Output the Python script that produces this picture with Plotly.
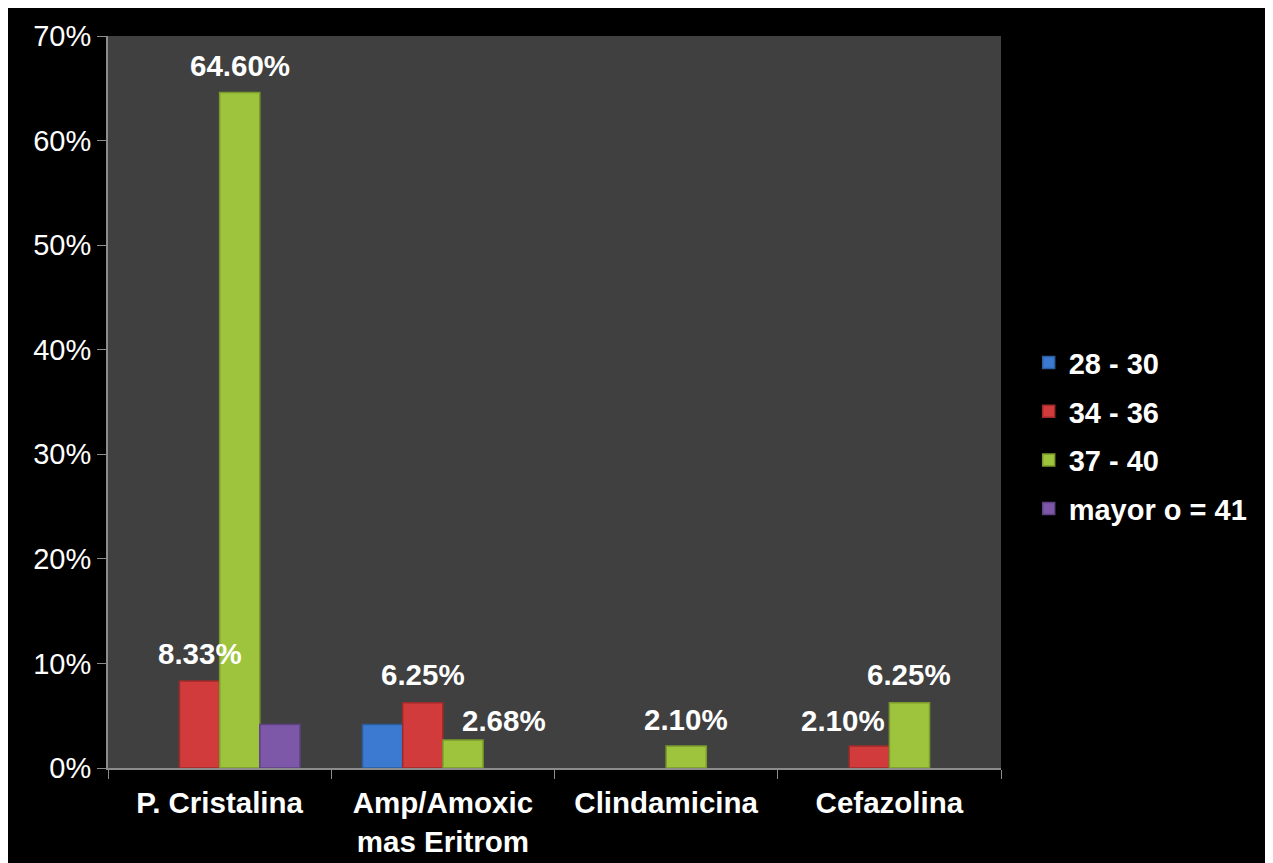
import plotly.graph_objects as go

categories = ["P. Cristalina", "Amp/Amoxic<br>mas Eritrom", "Clindamicina", "Cefazolina"]
series_names = ["28 - 30", "34 - 36", "37 - 40", "mayor o = 41"]
v_28_30 = [None, 4.17, None, None]
v_34_36 = [8.33, 6.25, None, 2.10]
v_37_40 = [64.60, 2.68, 2.10, 6.25]
v_41 = [4.17, None, None, None]
series_values = [v_28_30, v_34_36, v_37_40, v_41]
colors = ["#3B7AD0", "#D13B3B", "#9EC33C", "#7D58A8"]
line_colors = ["#2C5E9E", "#9E2B2B", "#7A9A2B", "#5E4283"]
y_ticks = [0, 10, 20, 30, 40, 50, 60, 70]
y_tick_labels = ["0%", "10%", "20%", "30%", "40%", "50%", "60%", "70%"]

# labels: (series index, category index, text, extra x shift px, y shift px)
label_specs = [
    (2, 0, "64.60%", 0, 27),
    (1, 0, "8.33%", 0, 27),
    (1, 1, "6.25%", 0, 28),
    (2, 1, "2.68%", 41, 19),
    (2, 2, "2.10%", 0, 27),
    (1, 3, "2.10%", -26, 26),
    (2, 3, "6.25%", 0, 28),
]
slot_offsets = [-60, -20, 20, 60]

FONT = "Liberation Sans, Arial"

fig = go.Figure()
for i, name in enumerate(series_names):
    fig.add_trace(go.Bar(
        x=categories, y=series_values[i], name="<b>" + name + "</b>",
        marker=dict(color=colors[i], line=dict(color=line_colors[i], width=1.5)),
        legendgroup=name,
    ))

for s, c, txt, dx, dy in label_specs:
    fig.add_annotation(
        x=categories[c], y=series_values[s][c], xref="x", yref="y",
        text="<b>" + txt + "</b>", showarrow=False,
        xshift=slot_offsets[s] + dx, yshift=dy, yanchor="middle",
        font=dict(family=FONT, size=29.5, color="white"),
    )

# page body adds an 8px offset; plot area in screen px: left 108, right 1001, top 36, bottom 768
W, H = 1265, 855
L, T = 100, 28
R = W - (1001 - 8)
B = H - (768 - 8)

fig.update_layout(
    width=W, height=H,
    margin=dict(l=L, r=R, t=T, b=B, autoexpand=False),
    paper_bgcolor="black", plot_bgcolor="#404040",
    barmode="group", bargap=0.28, bargroupgap=0,
    showlegend=True,
    legend=dict(x=1.031, y=0.454, xanchor="left", yanchor="middle",
                font=dict(family=FONT, size=29, color="white"),
                traceorder="grouped", tracegroupgap=8, bgcolor="rgba(0,0,0,0)"),
    font=dict(family=FONT, color="white"),
)
fig.update_xaxes(
    automargin=False,
    showline=True, linecolor="#8c8c8c", linewidth=2, ticks="outside", ticklen=9, tickcolor="#8c8c8c",
    tickson="boundaries", showgrid=False, ticklabelstandoff=8,
    tickfont=dict(family=FONT, size=29.5, color="white"),
    tickvals=categories, ticktext=["<b>" + c.replace("<br>", "</b><br><b>") + "</b>" for c in categories],
)
fig.update_yaxes(
    automargin=False,
    range=[0, 70], tickvals=y_ticks, ticktext=y_tick_labels, showgrid=False, zeroline=False,
    showline=True, linecolor="#8c8c8c", linewidth=2, ticks="outside", ticklen=9, tickcolor="#8c8c8c",
    ticklabelstandoff=0,
    tickfont=dict(family=FONT, size=29, color="white"),
)

fig.write_html("out.html")
